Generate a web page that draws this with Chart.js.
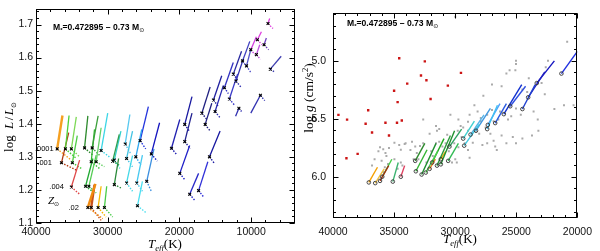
<!DOCTYPE html>
<html>
<head>
<meta charset="utf-8">
<script src="https://cdn.jsdelivr.net/npm/chart.js@4.4.1/dist/chart.umd.min.js"></script>
<style>
  html, body { margin: 0; padding: 0; background: #fff; }
  #wrap { position: relative; width: 600px; height: 251px; }
  canvas { position: absolute; top: 0; }
</style>
</head>
<body>
<div id="wrap">
  <canvas id="hrd" width="300" height="251" style="left:0"></canvas>
  <canvas id="kiel" width="300" height="251" style="left:300px"></canvas>
</div>
<script>
Chart.defaults.font.family = "'Liberation Sans', Arial, sans-serif";
Chart.defaults.color = '#111';

// ---- left panel: HR diagram (Teff vs log L/Lsun) ----
const hrTeffTicks = [40000, 30000, 20000, 10000];
const hrLogLTicks = [1.1, 1.2, 1.3, 1.4, 1.5, 1.6, 1.7];

// ZAHB points (black crosses)
const hrZahbTeff = [37050,35900,35070,33230,32170,30920, 36450,34930,32300,31610,29080,29310, 35070,33090,32630,32770,32300,31340,30460,
  27560,29080,27370,26080,27370,25950,24560,25850, 25480,23920,21110,19260,19950,18570,17330, 19260,16410,16870,15260,15030,15810,
  13730,13040,12490,12120,11200,10650, 10050,9270,9130,8200,7650, 7330,8710,11710];
const hrZahbLogL = [1.324,1.324,1.324,1.327,1.327,1.319, 1.282,1.282,1.285,1.285,1.216,1.287, 1.209,1.211,1.211,1.147,1.147,1.147,1.147,
  1.339,1.290,1.295,1.300,1.221,1.221,1.226,1.152, 1.349,1.309,1.326,1.346,1.250,1.187,1.198, 1.398,1.398,1.432,1.472,1.437,1.300,
  1.509,1.475,1.550,1.529,1.590,1.575, 1.624,1.609,1.654,1.639,1.703, 1.565,1.486,1.447];
// end of the solid part of each track
const hrTopTeff = [36310,35390,34380,32770,31340,30000, 35440,34240,31840,30920,28480,28390, 33920,32070,31610,31710,31840,30920,30140,
  26910,28160,26540,25250,26540,25160,23550,25160, 24330,22770,19950,18250,18570,17330,16040, 18250,15490,15720,14100,13870,14330,
  12490,11890,11340,11110,10190,10050, 9270,8800,8570,7880,7420, 5810,10050,12170];
const hrTopLogL = [1.425,1.425,1.421,1.424,1.424,1.432, 1.373,1.364,1.383,1.388,1.295,1.368, 1.290,1.295,1.305,1.218,1.216,1.211,1.211,
  1.428,1.378,1.378,1.383,1.304,1.305,1.324,1.226, 1.452,1.403,1.413,1.432,1.334,1.250,1.285, 1.482,1.462,1.511,1.545,1.516,1.378,
  1.585,1.550,1.619,1.595,1.649,1.624, 1.663,1.639,1.678,1.659,1.718, 1.604,1.432,1.423];
// dotted tails below the ZAHB
const hrTailTeff = [35070,34380,33920,32070,31150,29770, 34380,33690,31150,30460,28160,28390, 33920,31840,31610,30690,30920,30230,29310,
  26780,28300,26540,25390,26540,25160,23920,24700, 24700,23090,20320,18480,19260,17880,16640, 18620,15720,16180,14560,14330,15120,
  13180,12350,11890,11430,10600,10050, 9500,8710,8480,7560,6960, 6640,8110,11340];
const hrTailLogL = [1.290,1.295,1.300,1.305,1.305,1.300, 1.260,1.265,1.265,1.270,1.206,1.275, 1.187,1.191,1.191,1.113,1.108,1.118,1.118,
  1.309,1.265,1.270,1.275,1.196,1.196,1.196,1.132, 1.324,1.287,1.305,1.324,1.231,1.169,1.179, 1.378,1.378,1.413,1.452,1.418,1.280,
  1.491,1.457,1.533,1.511,1.572,1.555, 1.609,1.595,1.639,1.624,1.688, 1.555,1.470,1.437];
const hrColors = ['#f5a020','#4cd137','#7ed957','#2e8b2e','#3aa03a','#3cd6e6', '#b33a12','#4ccc44','#33b833','#66d066','#2a8a3a','#2f9f4f',
  '#e04848','#22aa33','#55cc55','#f08a10','#c8501a','#f5b800','#48cc48', '#56c8f0','#33d1cc','#44c4e4','#2fa8f0','#44d8e8','#44c8f0','#3a8fe0','#4ce0f0',
  '#2233dd','#1515c0','#2020b0','#202090','#2020c8','#2828c8','#3030d8', '#1818a0','#202080','#202080','#2020a0','#2828b0','#1818a0',
  '#3030c0','#3838c8','#2828a0','#3030b0','#4040c0','#5050c8', '#d23fe0','#c050e0','#e040e0','#7040c0','#e040e0', '#4040b0','#3030b0','#3030b0'];
const thickTracks = [0, 15, 16];

const zLabels = ['.0001', '.001', '.004', '.02'];
const zLabelTeff = [37400, 37640, 35970, 33890];
const zLabelLogL = [1.324, 1.282, 1.209, 1.147];

// ---- right panel: Teff vs log g ----
const kTeffTicks = [40000, 35000, 30000, 25000, 20000];
const kLoggTicks = [5.0, 5.5, 6.0];

const kZahbTeff = [37068,36152,36545,35969,35105,34450, 33272,33220,32748,32408,31884,31492,31177,32094,31177,30575,30470,
  29345,29266,28743,28298,27382,27330,26727,26020,25496,24501,24030,23324,21308];
const kZahbLogg = [6.049,6.036,6.055,6.000,6.042,6.000, 5.863,5.953,5.981,5.964,5.877,5.904,5.893,5.932,5.849,5.863,5.740,
  5.671,5.732,5.636,5.603,5.589,5.553,5.537,5.460,5.392,5.416,5.315,5.192,5.110];
const kTopTeff = [36361,35445,35812,35183,34660,34136, 32487,32303,31570,31439,30916,30392,30052,31623,30785,29738,29476,
  28429,28036,27643,27120,26544,26334,25810,24554,24240,23455,22669,21884,19999];
const kTopLogg = [5.918,5.904,5.932,5.849,5.877,5.904, 5.712,5.767,5.712,5.781,5.671,5.644,5.603,5.849,5.781,5.712,5.589,
  5.521,5.548,5.466,5.411,5.384,5.370,5.370,5.205,5.219,5.205,5.096,5.000,4.918];
const kColors = ['#f5a000','#a03010','#f0c040','#44cc44','#3cb371','#e04060', '#2e8b2e','#32b432','#1f8f2f','#4ccd4c','#22aa22','#2e9a3e','#1f8f2f','#f08020','#f5b000','#33bb55','#30a060',
  '#40d0d0','#3fc8e0','#56b4e8','#4098e0','#40c0f0','#50a0ff','#2a5ae0','#1030d0','#3050e0','#2040d0','#2020c0','#1515c0','#2030e0'];

// observed stars (grey)
const obsTeff = [20837,22407,22590,25025,25025,25549,25077,25810,26203,26989,23978,24501,24109,22669,22931,27696,28429,28167,26989,26334,
  25549,25025,24632,25417,25679,27382,26858,26465,27905,28822,28953,29738,29554,29345,30392,28298,28036,27513,27120,26858,
  26203,25286,25810,25025,24501,23716,23193,21098,20313,21884,23245,23585,29476,29215,28953,30078,29738,29995,30261,30523,
  30785,31046,31308,31570,31963,32618,32879,33272,33534,33665,34136,34581,34974,35419,35890,36152,36283,35707,35629,36021,
  34974,34450,34319,36597,35498,35759,34712,35890,36806,33403,33010,32356,31832,31177,28560,27774,27382,26727,26596,30523,
  28953,31308,30654,29790,32094,29995,32618,31570,31492,34058,33141,34450,29869,28822,27905];
const obsLogg = [4.836,5.000,5.055,5.000,5.027,5.082,5.082,5.110,5.219,5.205,5.151,5.247,5.268,5.288,5.192,5.301,5.384,5.438,5.425,5.438,
  5.392,5.411,5.466,5.479,5.507,5.466,5.521,5.507,5.521,5.466,5.526,5.507,5.562,5.575,5.466,5.603,5.630,5.575,5.630,5.690,
  5.644,5.658,5.712,5.712,5.671,5.644,5.603,5.384,5.384,5.416,5.507,5.438,5.658,5.712,5.769,5.712,5.745,5.849,5.877,5.781,
  5.712,5.740,5.699,5.712,5.781,5.712,5.734,5.740,5.699,5.769,5.718,5.726,5.707,5.753,5.762,5.745,5.781,5.795,5.822,5.863,
  5.849,5.877,5.904,5.849,5.890,5.918,5.932,5.959,5.904,5.849,5.849,5.877,5.822,5.877,5.707,5.726,5.712,5.740,5.769,6.356,
  5.603,5.589,5.638,5.603,5.630,4.620,5.507,5.562,5.603,5.712,5.795,5.767,5.877,5.836,5.493];
// hot stars (red)
const hotTeff = [39555,38848,38900,37984,37120,37330,36806,35707,35418,35000,34764,34712,34581,34371,33926,32800,32486,32355,32015,30601,29528];
const hotLogg = [5.466,5.507,5.841,5.803,5.427,5.543,5.619,5.534,5.644,5.258,5.534,5.356,4.978,5.515,5.197,5.126,5.005,5.167,5.329,5.214,5.104];

const SERIF = "'Liberation Serif', 'DejaVu Serif', serif";
const SANS = "'Liberation Sans', Arial, sans-serif";

function runs(ctx, parts, x, y, align) {
  let w = 0;
  parts.forEach(p => { ctx.font = p.font; p.w = ctx.measureText(p.text).width + (p.gap || 0); w += p.w; });
  let cx = align === 'center' ? x - w / 2 : align === 'right' ? x - w : x;
  ctx.textAlign = 'left';
  ctx.textBaseline = 'alphabetic';
  parts.forEach(p => { ctx.font = p.font; ctx.fillText(p.text, cx, y + (p.dy || 0)); cx += p.w; });
}

function header(ctx, x, y) {
  runs(ctx, [
    { text: 'M', font: 'bold 8.6px ' + SANS },
    { text: '*', font: 'bold 6px ' + SANS, dy: 2 },
    { text: '=0.472895 \u2013 0.73 M', font: 'bold 8.6px ' + SANS },
    { text: '\u2299', font: '6px "DejaVu Sans"', dy: 2 }
  ], x, y, 'left');
}

function teffTitle(ctx, x, y) {
  runs(ctx, [
    { text: 'T', font: 'italic 13px ' + SERIF },
    { text: 'eff', font: 'italic 8.5px ' + SERIF, dy: 3 },
    { text: '(K)', font: '13px ' + SERIF }
  ], x, y, 'center');
}

// inside tick marks on all four sides plus the frame
const frame = {
  id: 'frame',
  afterDatasetsDraw(chart, args, o) {
    const { ctx, chartArea: a, scales: { x, y } } = chart;
    const L = Math.round(a.left) + 0.5, R = Math.round(a.right) - 0.5;
    const T = Math.round(a.top) + 0.5, B = Math.round(a.bottom) - 0.5;
    ctx.save();
    ctx.strokeStyle = '#000';
    ctx.lineWidth = 1;
    ctx.beginPath();
    const marks = (scale, step, len, horiz) => {
      const lo = Math.min(scale.min, scale.max), hi = Math.max(scale.min, scale.max);
      for (let n = Math.ceil(lo / step - 1e-6); n * step <= hi + 1e-9; n++) {
        const p = Math.round(scale.getPixelForValue(n * step)) + 0.5;
        if (horiz) { ctx.moveTo(p, B); ctx.lineTo(p, B - len); ctx.moveTo(p, T); ctx.lineTo(p, T + len); }
        else { ctx.moveTo(L, p); ctx.lineTo(L + len, p); ctx.moveTo(R, p); ctx.lineTo(R - len, p); }
      }
    };
    marks(x, o.xMajor, 5, true);
    marks(x, o.xMinor, 2.5, true);
    marks(y, o.yMajor, 5, false);
    marks(y, o.yMinor, 2.5, false);
    ctx.stroke();
    ctx.strokeRect(L, T, R - L, B - T);
    ctx.restore();
  }
};

function segs(t0, v0, t1, v1, colors, extra) {
  return t0.map((t, i) => Object.assign({
    type: 'line',
    data: [{ x: t, y: v0[i] }, { x: t1[i], y: v1[i] }],
    borderColor: colors[i],
    borderWidth: 1.2,
    pointRadius: 0,
    fill: false
  }, typeof extra === 'function' ? extra(i) : extra));
}

const setTicks = list => scale => { scale.ticks = list.map(v => ({ value: v })); };

// ---------------- left chart ----------------
const hrDatasets = [
  {
    type: 'scatter',
    data: hrZahbTeff.map((t, i) => ({ x: t, y: hrZahbLogL[i] })),
    pointStyle: 'crossRot', pointRadius: 2, borderColor: '#000', borderWidth: 1.1, order: 0
  },
  ...segs(hrZahbTeff, hrZahbLogL, hrTopTeff, hrTopLogL, hrColors,
    i => ({ order: 1, borderWidth: thickTracks.includes(i) ? 2.4 : 1.3 })),
  ...segs(hrZahbTeff, hrZahbLogL, hrTailTeff, hrTailLogL, hrColors,
    { order: 2, borderWidth: 1.4, borderDash: [1.5, 1.5] })
];

const hrText = {
  id: 'hrText',
  afterDraw(chart) {
    const { ctx, scales: { x, y } } = chart;
    ctx.save();
    ctx.fillStyle = '#000';
    header(ctx, 53, 30);
    zLabels.forEach((s, i) => {
      ctx.textAlign = 'right';
      ctx.textBaseline = 'middle';
      ctx.font = '7.5px ' + SANS;
      ctx.fillText(s, x.getPixelForValue(zLabelTeff[i]) - 1, y.getPixelForValue(zLabelLogL[i]));
    });
    runs(ctx, [
      { text: 'Z', font: 'italic 11px ' + SERIF },
      { text: '\u2299', font: '6px "DejaVu Sans"', dy: 2 }
    ], 48, 204, 'left');
    teffTitle(ctx, 165, 248);
    ctx.translate(8, 127);
    ctx.rotate(-Math.PI / 2);
    runs(ctx, [
      { text: 'log ', font: '13px ' + SERIF, gap: 3 },
      { text: 'L', font: 'italic 13px ' + SERIF, gap: 1.5 },
      { text: '/', font: '13px ' + SERIF, gap: 1.5 },
      { text: 'L', font: 'italic 13px ' + SERIF },
      { text: '\u2299', font: '7px "DejaVu Sans"', dy: 3 }
    ], 0, 4.5, 'center');
    ctx.restore();
  }
};

new Chart(document.getElementById('hrd'), {
  data: { datasets: hrDatasets },
  options: {
    responsive: false,
    animation: false,
    devicePixelRatio: 1,
    layout: { padding: { top: 3, right: 4, left: 0, bottom: 0 } },
    plugins: {
      legend: { display: false },
      tooltip: { enabled: false },
      frame: { xMajor: 10000, xMinor: 2000, yMajor: 0.1, yMinor: 0.02 }
    },
    scales: {
      x: {
        type: 'linear', reverse: true, min: 3900, max: 40000,
        grid: { display: false, drawTicks: false },
        border: { display: false },
        afterBuildTicks: setTicks(hrTeffTicks),
        afterFit: s => { s.height = 28; },
        ticks: { autoSkip: false, maxRotation: 0, padding: 3, font: { size: 10.5 }, callback: v => String(v) }
      },
      y: {
        type: 'linear', min: 1.1, max: 1.746,
        grid: { display: false, drawTicks: false },
        border: { display: false },
        afterBuildTicks: setTicks(hrLogLTicks),
        afterFit: s => { s.width = 36; },
        ticks: { autoSkip: false, padding: 3, font: { size: 10.5 }, callback: v => v.toFixed(1) }
      }
    }
  },
  plugins: [frame, hrText]
});

// ---------------- right chart ----------------
const kDatasets = [
  {
    type: 'scatter',
    data: kZahbTeff.map((t, i) => ({ x: t, y: kZahbLogg[i] })),
    pointStyle: 'circle', pointRadius: 1.8, borderColor: '#333', backgroundColor: 'rgba(255,255,255,0)', borderWidth: 0.9, order: 0
  },
  ...segs(kZahbTeff, kZahbLogg, kTopTeff, kTopLogg, kColors, { order: 1, borderWidth: 1.4 }),
  {
    type: 'scatter',
    data: hotTeff.map((t, i) => ({ x: t, y: hotLogg[i] })),
    pointStyle: 'rect', pointRadius: 1.7, backgroundColor: '#cc1414', borderWidth: 0, order: 2
  },
  {
    type: 'scatter',
    data: obsTeff.map((t, i) => ({ x: t, y: obsLogg[i] })),
    pointStyle: 'rect', pointRadius: 1.4, backgroundColor: '#aaaaaa', borderWidth: 0, order: 3
  }
];

const kText = {
  id: 'kText',
  afterDraw(chart) {
    const { ctx } = chart;
    ctx.save();
    ctx.fillStyle = '#000';
    header(ctx, 47, 26);
    teffTitle(ctx, 160, 243);
    ctx.translate(8, 98);
    ctx.rotate(-Math.PI / 2);
    runs(ctx, [
      { text: 'log ', font: '13.5px ' + SERIF },
      { text: 'g', font: 'italic 13.5px ' + SERIF },
      { text: ' (cm/s', font: '13.5px ' + SERIF },
      { text: '2', font: '8.5px ' + SERIF, dy: -5 },
      { text: ')', font: '13.5px ' + SERIF }
    ], 0, 4.5, 'center');
    ctx.restore();
  }
};

new Chart(document.getElementById('kiel'), {
  data: { datasets: kDatasets },
  options: {
    responsive: false,
    animation: false,
    devicePixelRatio: 1,
    layout: { padding: { top: 3, right: 13, left: 0, bottom: 0 } },
    plugins: {
      legend: { display: false },
      tooltip: { enabled: false },
      frame: { xMajor: 5000, xMinor: 1000, yMajor: 0.5, yMinor: 0.1 }
    },
    scales: {
      x: {
        type: 'linear', reverse: true, min: 20000, max: 40000,
        grid: { display: false, drawTicks: false },
        border: { display: false },
        afterBuildTicks: setTicks(kTeffTicks),
        afterFit: s => { s.height = 33; },
        ticks: { autoSkip: false, maxRotation: 0, padding: 8, font: { size: 10.5 }, callback: v => String(v) }
      },
      y: {
        type: 'linear', reverse: true, min: 4.59, max: 6.356,
        grid: { display: false, drawTicks: false },
        border: { display: false },
        afterBuildTicks: setTicks(kLoggTicks),
        afterFit: s => { s.width = 33; },
        ticks: { autoSkip: false, padding: 7, font: { size: 10.5 }, callback: v => v.toFixed(1) }
      }
    }
  },
  plugins: [frame, kText]
});
</script>
</body>
</html>
